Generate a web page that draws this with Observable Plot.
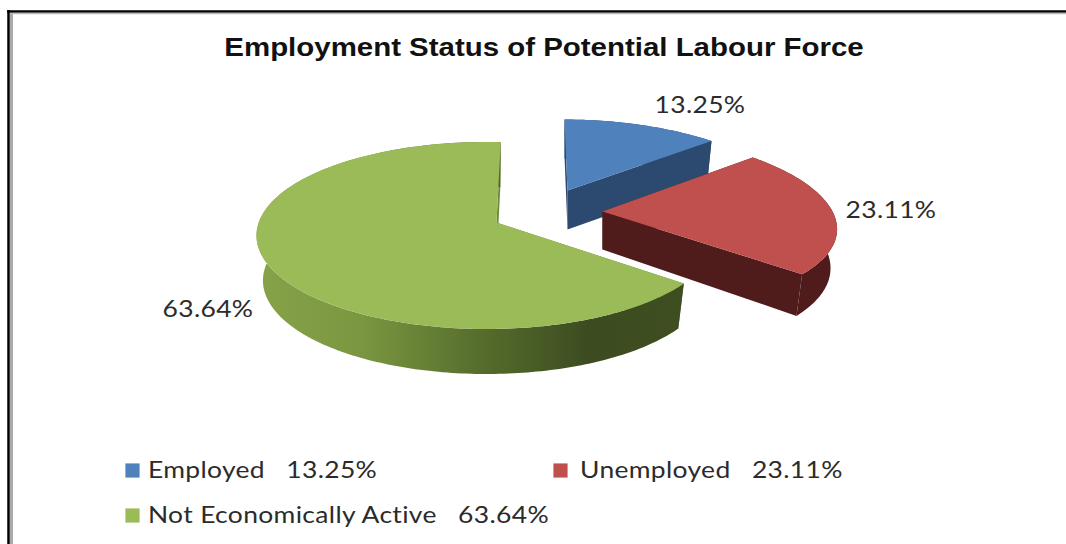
<!DOCTYPE html>
<html>
<head>
<meta charset="utf-8">
<style>
  html, body { margin: 0; padding: 0; background: #fff; }
  svg { display: block; }
  /* Widened lettering: each group is stretched horizontally from the left edge */
  .heading { transform-origin: 0 0; transform: scaleX(1.178); }
  .wide { transform-origin: 0 0; transform: scaleX(1.15); letter-spacing: 0.3px; }
</style>
<script src="https://cdn.jsdelivr.net/npm/d3@7"></script>
<script src="https://cdn.jsdelivr.net/npm/@observablehq/plot@0.6"></script>
</head>
<body>
<div id="chart"></div>
<script>
const title = "Employment Status of Potential Labour Force";
const categories = ["Employed", "Unemployed", "Not Economically Active"];
const shares = [13.25, 23.11, 63.64];
const topColors = ["#4f81bd", "#c0504d", "#9bbb59"];
const wallColors = ["#2c4a70", "#4f1c1b", "#6d8a38"];

const W = 1066, H = 544;
const headingStretch = 1.178, textStretch = 1.15;
const rad = Math.PI / 180;

// Tilted-disc parameters for each wedge: apex, rim centre and radii, perspective,
// shear, angle warp of the rim, and wall depth (with its change front to back).
const discs = [
  {ax: 567, ay: 190, cx: 567, cy: 190, rx: 224, ry: 79.5, px: 0.20, py: 0.12, lean: -3, warp: 1, turn: 0, depth: 39, depthSlope: 0},
  {ax: 602, ay: 211, cx: 602, cy: 211, rx: 230, ry: 87.5, px: 0.197, py: 0.135, lean: 0, warp: 1, turn: 0, depth: 38, depthSlope: 5},
  {ax: 496, ay: 222, cx: 486, cy: 235, rx: 230, ry: 93.5, px: 0, py: 0, lean: 0, warp: 1.059, turn: -17.7 * rad, depth: 45, depthSlope: 0}
];
const bottomShrink = 0.972;

const fmt = (v) => v.toFixed(2) + "%";
const arcs = d3.pie().sort(null).value((d) => d)(shares);

function project(d, angle) {
  const t = angle * d.warp + d.turn;
  const u = Math.sin(t), v = -Math.cos(t);
  return {
    x: d.cx + d.rx * u / (1 - d.px * v) - (v < 0 ? d.lean * v : 0),
    y: d.cy + d.ry * v / (1 - d.py * v)
  };
}
const lower = (d, p) => ({
  x: d.cx + (p.x - d.cx) * bottomShrink,
  y: p.y + d.depth + d.depthSlope * (p.y - d.ay) / d.ry
});

function rim(d, a0, a1) {
  const n = Math.ceil((a1 - a0) / 0.02);
  return d3.range(n + 1).map((i) => project(d, a0 + (a1 - a0) * i / n));
}

const marks = [];
const face = (pts, fill) => marks.push(Plot.line(pts, {x: "x", y: "y", fill, stroke: "none", curve: "linear-closed"}));

// Shading of the large wedge's outer wall, dark toward the right.
const wallStops = [[0, "#87a349"], [0.25, "#7a9640"], [0.55, "#536a2b"], [0.78, "#3c4c20"], [1, "#3f4e20"]];
marks.push(() => {
  const ns = "http://www.w3.org/2000/svg";
  const defs = document.createElementNS(ns, "defs");
  const g = document.createElementNS(ns, "linearGradient");
  g.setAttribute("id", "outerWall");
  g.setAttribute("gradientUnits", "userSpaceOnUse");
  g.setAttribute("x1", 256); g.setAttribute("x2", 681);
  g.setAttribute("y1", 0); g.setAttribute("y2", 0);
  for (const [o, c] of wallStops) {
    const s = document.createElementNS(ns, "stop");
    s.setAttribute("offset", o); s.setAttribute("stop-color", c);
    g.appendChild(s);
  }
  defs.appendChild(g);
  return defs;
});

arcs.forEach((arc, i) => {
  const d = discs[i];
  const apex = {x: d.ax, y: d.ay};
  const top = rim(d, arc.startAngle, arc.endAngle);
  const first = top[0], last = top[top.length - 1];
  const wall = (p) => [apex, p, lower(d, p), lower(d, apex)];
  face(wall(first), wallColors[i]);
  face(wall(last), wallColors[i]);
  face([...top, ...top.map((p) => lower(d, p)).reverse()], i === 2 ? "url(#outerWall)" : wallColors[i]);
  face([apex, ...top], topColors[i]);
});

// Outer frame
const ink = "#2b2b2b";
marks.push(
  Plot.ruleX([8], {y1: 10, y2: H, stroke: "#000", strokeWidth: 2.5}),
  Plot.ruleX([11], {y1: 12, y2: H, stroke: "#aaa", strokeWidth: 3}),
  Plot.ruleY([11], {x1: 7, x2: W, stroke: "#000", strokeWidth: 2.5}),
  Plot.ruleY([13], {x1: 10, x2: W, stroke: "#bbb", strokeWidth: 1.5})
);

marks.push(Plot.text([title], {
  x: () => 544 / headingStretch, y: () => 48, text: (d) => d, fontFamily: "Liberation Sans", fontWeight: "bold",
  fontSize: 25, fill: "#111", textAnchor: "middle", className: "heading"
}));

// Value labels beside the wedges
const labelX = [700, 891, 208], labelY = [106, 211, 310];
marks.push(Plot.text(shares, {
  x: (d, i) => labelX[i] / textStretch, y: (d, i) => labelY[i], text: fmt,
  fontFamily: "Lato", fontSize: 23, fill: ink, textAnchor: "middle", className: "wide"
}));

// Legend
const keyX = [132, 560, 132], keyY = [470, 470, 515], textX = [148, 580, 148];
marks.push(Plot.dot(categories, {
  x: (d, i) => keyX[i], y: (d, i) => keyY[i], symbol: "square", r: 8,
  fill: (d, i) => topColors[i], stroke: "none"
}));
marks.push(Plot.text(categories, {
  x: (d, i) => textX[i] / textStretch, y: (d, i) => keyY[i] + 1,
  text: (d, i) => `${d}   ${fmt(shares[i])}`,
  fontFamily: "Lato", fontSize: 23, fill: ink, textAnchor: "start", className: "wide"
}));

const chart = Plot.plot({
  width: W, height: H, margin: 0,
  x: {domain: [0, W], range: [0, W], axis: null},
  y: {domain: [0, H], range: [0, H], axis: null},
  color: {type: "identity"},
  style: {background: "#fff", whiteSpace: "pre"},
  marks
});
document.getElementById("chart").appendChild(chart);
</script>
</body>
</html>
